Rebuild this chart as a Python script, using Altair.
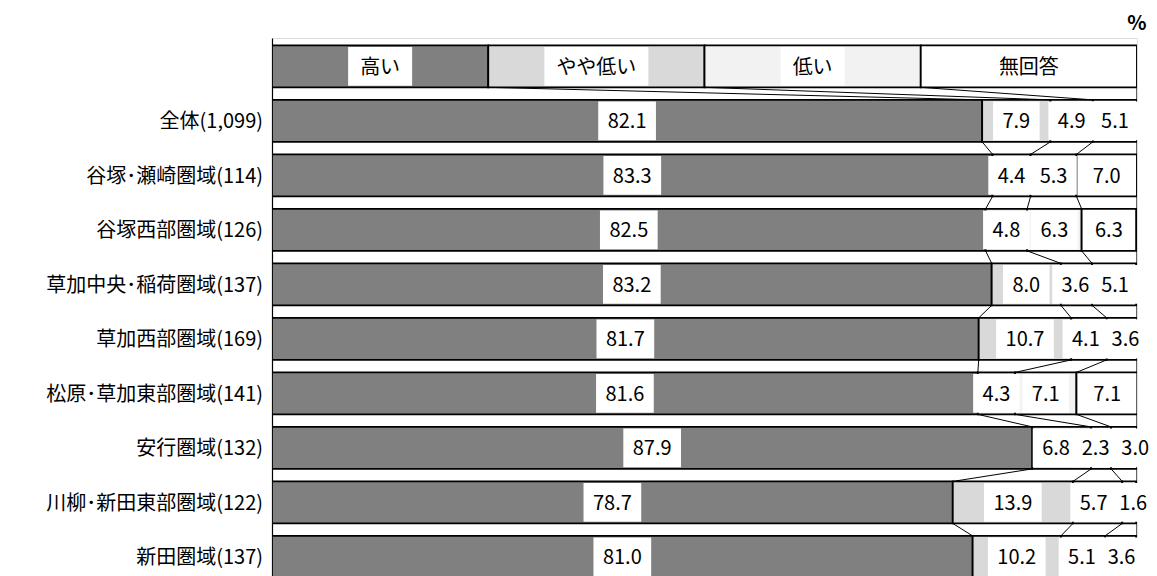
import altair as alt
import pandas as pd

FONT = "Noto Sans CJK JP"
FS = 20

categories = [
    "全体(1,099)",
    "谷塚･瀬崎圏域(114)",
    "谷塚西部圏域(126)",
    "草加中央･稲荷圏域(137)",
    "草加西部圏域(169)",
    "松原･草加東部圏域(141)",
    "安行圏域(132)",
    "川柳･新田東部圏域(122)",
    "新田圏域(137)",
]
series = ["高い", "やや低い", "低い", "無回答"]
colors = ["#808080", "#d9d9d9", "#f2f2f2", "#ffffff"]

high = [82.1, 83.3, 82.5, 83.2, 81.7, 81.6, 87.9, 78.7, 81.0]
slightly_low = [7.9, 4.4, 4.8, 8.0, 10.7, 4.3, 6.8, 13.9, 10.2]
low = [4.9, 5.3, 6.3, 3.6, 4.1, 7.1, 2.3, 5.7, 5.1]
no_answer = [5.1, 7.0, 6.3, 5.1, 3.6, 7.1, 3.0, 1.6, 3.6]
legend_share = [25, 25, 25, 25]

# layout parameters
PLOT_W = 865
PLOT_H = 538
PX = PLOT_W / 100.0
Y_DOMAIN = [-0.52, 9.35]
HALF = 0.385
PX_Y = PLOT_H / (Y_DOMAIN[1] - Y_DOMAIN[0])


def text_w(s):
    w = 0
    for c in s:
        if ord(c) > 0x2000:
            w += FS
        elif c in ".,":
            w += 0.27 * FS
        else:
            w += 0.555 * FS
    return w


rows_vals = [legend_share] + [list(v) for v in zip(high, slightly_low, low, no_answer)]

bars = []
cums = []
for r, vals in enumerate(rows_vals):
    c = 0.0
    cum = [0.0]
    for s, v in zip(series, vals):
        bars.append({"row": r, "series": s, "start": c, "end": c + v,
                     "y": r - HALF, "y2": r + HALF})
        c += v
        cum.append(c)
    cums.append(cum)
bars_df = pd.DataFrame(bars)

# connectors between consecutive bars
conn = []
for r in range(len(rows_vals) - 1):
    for k in (1, 2, 3):
        conn.append({"x": cums[r][k], "x2": cums[r + 1][k],
                     "y": r + HALF, "y2": r + 1 - HALF})
conn_df = pd.DataFrame(conn)

# labels (centred in segments, nudged apart when they would collide)
labels = []
for r, vals in enumerate(rows_vals):
    if r == 0:
        texts = series
    else:
        texts = [f"{v:.1f}" for v in vals]
    centers = [(cums[r][k] + cums[r][k + 1]) / 2 * PX for k in range(4)]
    widths = [text_w(t) for t in texts]
    if r > 0:
        for _ in range(100):
            for i in range(3):
                need = (widths[i] + widths[i + 1]) / 2 + 12
                d = centers[i + 1] - centers[i]
                if d < need:
                    ov = need - d
                    centers[i] -= ov / 2
                    centers[i + 1] += ov / 2
    for t, cx, w in zip(texts, centers, widths):
        pad = 24 if r == 0 else 19
        bw = w + pad
        labels.append({"row": r, "text": t, "x": cx / PX,
                       "lo": (cx - bw / 2) / PX, "hi": (cx + bw / 2) / PX,
                       "by": r - HALF + 1.6 / PX_Y, "by2": r + HALF - 1.6 / PX_Y})
labels_df = pd.DataFrame(labels)

cat_df = pd.DataFrame({"row": list(range(1, len(categories) + 1)), "name": categories})
border_df = pd.DataFrame({"x": [100], "y": [-HALF], "y2": [Y_DOMAIN[1]]})

xscale = alt.Scale(domain=[0, 100], nice=False, zero=False)
yscale = alt.Scale(domain=Y_DOMAIN, reverse=True, nice=False, zero=False)
yaxis = alt.Axis(labels=False, ticks=False, grid=False, title=None,
                 domainColor="black", domainWidth=1.2)


def X(f):
    return alt.X(f, type="quantitative", scale=xscale, axis=None)


def Y(f):
    return alt.Y(f, type="quantitative", scale=yscale, axis=yaxis)


bar_layer = alt.Chart(bars_df).mark_rect(stroke="black", strokeWidth=1.8, clip=True).encode(
    x=X("start"), x2="end", y=Y("y"), y2="y2",
    color=alt.Color("series:N", scale=alt.Scale(domain=series, range=colors), legend=None),
)

conn_layer = alt.Chart(conn_df).mark_rule(color="black", strokeWidth=1, clip=True).encode(
    x=X("x"), x2="x2", y=Y("y"), y2="y2"
)

border_layer = alt.Chart(border_df).mark_rule(color="black", strokeWidth=1.2, clip=True).encode(
    x=X("x"), y=Y("y"), y2="y2"
)

box_layer = alt.Chart(labels_df).mark_rect(fill="white", stroke=None, clip=False).encode(
    x=X("lo"), x2="hi", y=Y("by"), y2="by2"
)

text_layer = alt.Chart(labels_df).mark_text(
    font=FONT, fontSize=FS, color="black", baseline="middle", align="center", dy=1.5
).encode(x=X("x"), y=Y("row"), text="text:N")

cat_layer = alt.Chart(cat_df).mark_text(
    font=FONT, fontSize=FS, color="black", baseline="middle", align="right", dy=1.5
).encode(x=alt.value(-9), y=Y("row"), text="name:N")

chart = alt.layer(
    bar_layer, conn_layer, border_layer, box_layer, text_layer, cat_layer
).properties(
    width=PLOT_W,
    height=PLOT_H,
    title=alt.TitleParams("%", anchor="end", font=FONT, fontSize=20, fontWeight="bold",
                          color="black", dx=-12, offset=4),
    autosize=alt.AutoSizeParams(type="none"),
    padding={"left": 272, "top": 38, "right": 20, "bottom": 0},
).configure_view(stroke=None).configure(background="white")

chart.save("out.html", embed_options={"renderer": "svg", "actions": False})
